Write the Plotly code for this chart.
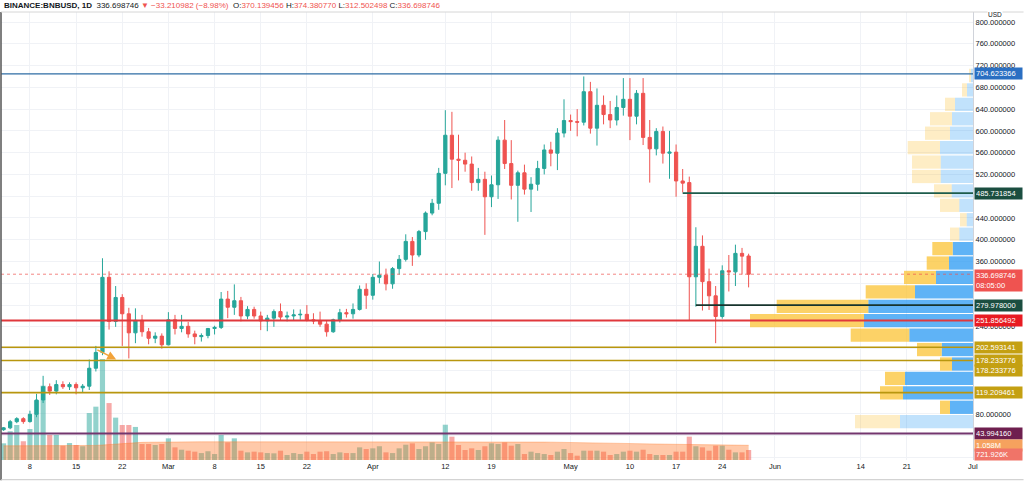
import plotly.graph_objects as go
import pandas as pd

# ---------------- data ----------------
dates = pd.date_range("2021-02-04", "2021-05-28", freq="D")

open_feb = [51, 54.5, 65.8, 71.3, 66, 79.4, 105.6, 130, 122, 134, 130, 134, 128, 131, 164, 193, 331, 250, 294, 264, 229, 252, 231, 219, 223]
close_feb = [54.5, 65.8, 71.3, 66, 79.4, 105.6, 130, 122, 134, 130, 134, 128, 131, 164, 193, 331, 250, 294, 264, 229, 252, 231, 219, 223, 207]
high_feb = [56, 69, 74, 74, 86, 117, 150, 136, 142, 140, 138, 138, 135, 180, 205, 366, 342, 315, 300, 275, 274, 262, 238, 230, 228]
low_feb = [49, 52, 63, 62, 64, 74, 100, 115, 116, 126, 124, 116, 120, 124, 158, 188, 235, 240, 205, 182, 210, 222, 208, 210, 200]

open_mar = [207, 253, 237, 241, 227, 222, 224, 237, 239, 291, 276, 288, 260, 272, 260, 251, 256, 268, 258, 260, 262, 263, 253, 251, 245, 231, 253, 266, 264, 272, 309]
close_mar = [253, 237, 241, 227, 222, 224, 237, 239, 291, 276, 288, 260, 272, 260, 251, 256, 268, 258, 260, 262, 263, 253, 251, 245, 231, 253, 266, 264, 272, 309, 298]
high_mar = [267, 262, 262, 249, 233, 228, 238, 242, 304, 306, 318, 295, 278, 277, 268, 262, 272, 283, 268, 272, 272, 280, 265, 268, 252, 255, 273, 273, 283, 316, 320]
low_mar = [206, 226, 230, 220, 208, 213, 219, 226, 236, 256, 262, 250, 254, 255, 234, 232, 240, 252, 250, 252, 253, 250, 245, 240, 222, 229, 248, 257, 255, 270, 273]

open_apr = [298, 331, 335, 319, 347, 364, 397, 372, 415, 449, 467, 522, 592, 548, 546, 539, 505, 511, 479, 501, 583, 540, 500, 523, 493, 502, 531, 565, 559, 596]
close_apr = [331, 335, 319, 347, 364, 397, 372, 415, 449, 467, 522, 592, 548, 546, 539, 505, 511, 479, 501, 583, 540, 500, 523, 493, 502, 531, 565, 559, 596, 619]
high_apr = [337, 360, 347, 350, 372, 410, 405, 418, 452, 475, 532, 638, 635, 593, 560, 553, 532, 525, 518, 590, 620, 583, 527, 538, 515, 545, 575, 580, 605, 658]
low_apr = [290, 320, 307, 310, 336, 360, 352, 368, 400, 445, 455, 500, 495, 509, 525, 490, 490, 409, 460, 475, 530, 474, 433, 483, 451, 490, 520, 535, 528, 588]

open_may = [619, 617, 616, 672, 605, 647, 630, 620, 643, 658, 627, 669, 588, 567, 599, 559, 561, 508, 505, 332, 388, 323, 297, 259, 343, 341, 375, 370.139456]
close_may = [617, 616, 672, 605, 647, 630, 620, 643, 658, 627, 669, 588, 567, 599, 559, 561, 508, 504, 332, 388, 323, 297, 259, 343, 341, 375, 369.909728, 336.698746]
high_may = [630, 640, 700, 690, 678, 665, 655, 665, 697, 697, 675, 697, 620, 605, 608, 600, 575, 530, 516, 423, 408, 347, 315, 353, 372, 391, 385, 374.380770]
low_may = [600, 590, 610, 595, 573, 612, 605, 610, 628, 583, 612, 574, 505, 555, 540, 512, 479, 487, 252, 277, 270, 271, 210, 255, 305, 315, 336, 312.502498]

# volume, thousands
vol_feb = [1200, 2070, 2520, 1350, 2230, 4270, 5350, 1800, 1800, 1030, 1220, 1080, 990, 3380, 3840, 7270, 4100, 3050, 2520, 2520, 2380, 1150, 1150, 1080, 1150]
vol_mar = [1560, 910, 740, 670, 600, 500, 630, 430, 1800, 1270, 1560, 670, 550, 600, 550, 500, 480, 670, 360, 500, 430, 600, 430, 600, 630, 430, 550, 500, 500, 910, 790]
vol_apr = [840, 990, 550, 500, 840, 1100, 1200, 790, 990, 1270, 1150, 2540, 1680, 1080, 720, 840, 720, 990, 1200, 1150, 1270, 1030, 1150, 430, 600, 500, 430, 360, 600, 790]
vol_may = [500, 310, 670, 670, 670, 600, 360, 430, 600, 670, 600, 740, 430, 360, 360, 360, 600, 600, 1680, 990, 910, 670, 1030, 1030, 740, 550, 550, 721.926]

# volume moving average, thousands
ma_feb = [1020, 1020, 1025, 1025, 1030, 1030, 1035, 1035, 1035, 1035, 1035, 1035, 1035, 1040, 1050, 1080, 1120, 1160, 1200, 1230, 1250, 1270, 1280, 1290, 1300]
ma_mar = [1300, 1305, 1305, 1310, 1310, 1310, 1310, 1310, 1315, 1315, 1315, 1315, 1320, 1320, 1320, 1320, 1320, 1320, 1320, 1320, 1320, 1320, 1320, 1320, 1320, 1320, 1320, 1320, 1325, 1325, 1325]
ma_apr = [1330, 1330, 1330, 1330, 1335, 1335, 1335, 1335, 1340, 1340, 1340, 1340, 1340, 1340, 1340, 1335, 1335, 1330, 1330, 1325, 1320, 1315, 1310, 1305, 1300, 1295, 1290, 1285, 1280, 1275]
ma_may = [1270, 1265, 1260, 1250, 1240, 1230, 1220, 1210, 1200, 1190, 1180, 1170, 1160, 1150, 1140, 1130, 1120, 1110, 1100, 1095, 1090, 1085, 1080, 1075, 1070, 1065, 1060, 1058]

opens = open_feb + open_mar + open_apr + open_may
closes = close_feb + close_mar + close_apr + close_may
highs = high_feb + high_mar + high_apr + high_may
lows = low_feb + low_mar + low_apr + low_may
volumes = vol_feb + vol_mar + vol_apr + vol_may
vol_ma = ma_feb + ma_mar + ma_apr + ma_may

# volume profile (rows from bottom), bin edges start/step
profile_start = 52.5
profile_step = 26.5
profile_up = [730, 230, 700, 680, 210, 313, 637, 1090, 1047, 580, 370, 240, 203, 137, 63, 137, 213, 323, 323, 330, 230, 210, 180, 60, 20]
profile_down = [450, 100, 230, 200, 120, 247, 586, 1140, 916, 493, 320, 223, 204, 93, 67, 193, 177, 287, 287, 323, 250, 220, 100, 50, 20]
profile_in_value_area = [False] + [True] * 12 + [False] * 12

# horizontal levels
level_top = 704.623366
level_res = 485.731854
level_sup = 279.978000
level_red = 251.856492
level_gold = [202.593141, 178.233776, 119.209461]
level_purple = 43.994160
last_price = 336.698746

tick_dates = ["2021-02-08", "2021-02-15", "2021-02-22", "2021-03-01", "2021-03-08", "2021-03-15",
              "2021-03-22", "2021-04-01", "2021-04-12", "2021-04-19", "2021-05-01", "2021-05-10",
              "2021-05-17", "2021-05-24", "2021-06-01", "2021-06-14", "2021-06-21", "2021-07-01"]
tick_text = ["8", "15", "22", "Mar", "8", "15", "22", "Apr", "12", "19", "May", "10", "17", "24",
             "Jun", "14", "21", "Jul"]
price_ticks = list(range(0, 841, 40))
hidden_price_ticks = [0, 40, 120, 160, 200, 280, 320, 480]

# ---------------- figure ----------------
UP = "#26a69a"
DOWN = "#ef5350"
FONT = "Liberation Sans, Arial, sans-serif"

fig = go.Figure()

vol_colors = ["rgba(38,166,154,0.5)" if c >= o else "rgba(239,83,80,0.5)" for o, c in zip(opens, closes)]
fig.add_trace(go.Bar(x=dates, y=volumes, marker=dict(color=vol_colors, line=dict(width=0)),
                     width=0.78 * 86400000, yaxis="y3", hoverinfo="skip", showlegend=False))
fig.add_trace(go.Scatter(x=dates, y=vol_ma, mode="lines", line=dict(width=0.8, color="rgba(255,120,40,0.45)"),
                         fill="tozeroy", fillcolor="rgba(255,120,40,0.4)", yaxis="y3",
                         hoverinfo="skip", showlegend=False))

centers = [profile_start + profile_step * (i + 0.5) for i in range(len(profile_up))]
up_cols = ["rgba(33,150,243,0.72)" if v else "rgba(33,150,243,0.28)" for v in profile_in_value_area]
dn_cols = ["rgba(251,192,45,0.72)" if v else "rgba(251,192,45,0.28)" for v in profile_in_value_area]
fig.add_trace(go.Bar(y=centers, x=profile_up, orientation="h", xaxis="x2", yaxis="y",
                     width=profile_step * 0.92, marker=dict(color=up_cols, line=dict(width=0)),
                     hoverinfo="skip", showlegend=False))
fig.add_trace(go.Bar(y=centers, x=profile_down, base=profile_up, orientation="h", xaxis="x2", yaxis="y",
                     width=profile_step * 0.92, marker=dict(color=dn_cols, line=dict(width=0)),
                     hoverinfo="skip", showlegend=False))

fig.add_trace(go.Candlestick(
    x=dates, open=opens, high=highs, low=lows, close=closes,
    increasing=dict(line=dict(color=UP, width=1), fillcolor=UP),
    decreasing=dict(line=dict(color=DOWN, width=1), fillcolor=DOWN),
    whiskerwidth=0, hoverinfo="skip", showlegend=False))

x_start = pd.Timestamp("2021-02-03 14:40")
x_end = pd.Timestamp("2021-07-01 00:45")

shapes = []
def hline(y, color, width, x0=None, dash="solid"):
    if x0 is None:
        shapes.append(dict(type="line", xref="paper", yref="y", x0=0, x1=1, y0=y, y1=y,
                           line=dict(color=color, width=width, dash=dash), layer="above"))
    else:
        shapes.append(dict(type="line", xref="x", yref="y", x0=x0, x1=x_end, y0=y, y1=y,
                           line=dict(color=color, width=width, dash=dash), layer="above"))

hline(last_price, "rgba(239,83,80,0.7)", 1, dash="dot")
hline(level_top, "#2e6da4", 1.2)
hline(level_res, "#1d5c4c", 1.6, x0=dates[-11])
hline(level_sup, "#17342d", 1.6, x0=dates[-9])
hline(level_red, "#e0383c", 2)
for g in level_gold:
    hline(g, "#b8960e", 1.6)
hline(level_purple, "#73366e", 2)

# frame
shapes.append(dict(type="line", xref="paper", yref="paper", x0=0, x1=0, y0=-0.045, y1=1,
                   line=dict(color="#555", width=1.5)))
shapes.append(dict(type="line", xref="paper", yref="paper", x0=0, x1=1.052, y0=1, y1=1,
                   line=dict(color="#d6d6d6", width=1)))
shapes.append(dict(type="line", xref="paper", yref="paper", x0=0, x1=1.052, y0=-0.044, y1=-0.044,
                   line=dict(color="#c8c8c8", width=1)))

annotations = []
def label(y, text, bg, yref="y", yshift=0, color="white", yanchor="middle"):
    annotations.append(dict(xref="paper", yref=yref, x=1, y=y, xanchor="left", yanchor=yanchor,
                            xshift=1, yshift=yshift, text=text, showarrow=False, align="left",
                            bgcolor=bg, width=45, borderpad=1,
                            font=dict(size=7.5, color=color, family=FONT)))

label(level_top, f"{level_top:.6f}", "#2a6fc2")
label(level_res, f"{level_res:.6f}", "#1b4e40")
label(last_price, f"{last_price:.6f}<br>08:05:00", "#ef5350", yanchor="top", yshift=5)
label(level_sup, f"{level_sup:.6f}", "#1b4e40")
label(level_red, f"{level_red:.6f}", "#e81b22")
label(level_gold[0], f"{level_gold[0]:.6f}", "#c4a012")
label(level_gold[1], f"{level_gold[1]:.6f}", "#c4a012")
label(level_gold[1], f"{level_gold[1]:.6f}", "#c4a012", yshift=-10)
label(level_gold[2], f"{level_gold[2]:.6f}", "#c4a012")
label(level_purple, f"{level_purple:.6f}", "#6e1f4f")
label(vol_ma[-1], f"{vol_ma[-1] / 1000:.3f}M", "#f6a25e", yref="y3")
label(volumes[-1], f"{volumes[-1]:.3f}K", "#f07468", yref="y3", yshift=-5)

annotations.append(dict(xref="paper", yref="y", x=1, y=800, xanchor="left", yanchor="bottom", xshift=14,
                        yshift=3, text="USD", showarrow=False, bgcolor="white", borderpad=0,
                        font=dict(size=6.5, color="#131722", family=FONT)))

header = ("<b>BINANCE:BNBUSD, 1D</b>  336.698746 <span style='color:#ef5350'>▼ −33.210982 (−8.98%)</span>  "
          "O:<span style='color:#ef5350'>370.139456</span> H:<span style='color:#ef5350'>374.380770</span> "
          "L:<span style='color:#ef5350'>312.502498</span> C:<span style='color:#ef5350'>336.698746</span>")
annotations.append(dict(xref="paper", yref="paper", x=0, y=1, xanchor="left", yanchor="bottom", xshift=1,
                        yshift=0, text=header, showarrow=False, font=dict(size=8, color="#131722", family=FONT)))

annotations.append(dict(xref="x", yref="y", axref="x", ayref="y",
                        x=pd.Timestamp("2021-02-21 02:00"), y=180,
                        ax=pd.Timestamp("2021-02-18 00:00"), ay=199,
                        showarrow=True, arrowhead=2, arrowsize=1.2, arrowwidth=1.5,
                        arrowcolor="#f2a33a", text=""))

fig.update_layout(
    width=1024, height=481,
    margin=dict(l=1, r=51, t=12, b=21),
    paper_bgcolor="white", plot_bgcolor="white",
    barmode="overlay",
    font=dict(family=FONT, size=8, color="#131722"),
    xaxis=dict(type="date", range=[x_start, x_end], rangeslider=dict(visible=False),
               tickvals=tick_dates, ticktext=tick_text, showgrid=True, gridcolor="#f0f2f6",
               gridwidth=1, zeroline=False, showline=False, ticks="",
               tickfont=dict(size=7.5, color="#131722")),
    xaxis2=dict(overlaying="x", anchor="y", range=[9720, 0], visible=False),
    yaxis=dict(side="right", range=[-4.6, 818.4], tickvals=price_ticks,
               ticktext=["" if v in hidden_price_ticks else f"{v:.6f}" for v in price_ticks],
               showgrid=True, gridcolor="#f0f2f6",
               zeroline=False, showline=True, linecolor="#d0d3da", ticks="",
               tickfont=dict(size=7.5, color="#131722")),
    yaxis3=dict(overlaying="y", range=[0, 32256], visible=False),
    shapes=shapes, annotations=annotations,
)

fig.write_html("out.html")
